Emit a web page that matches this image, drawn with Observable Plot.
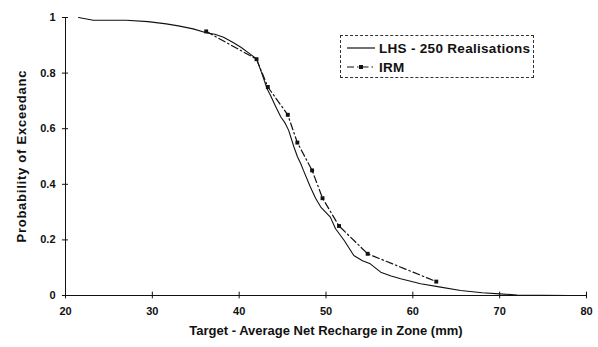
<!DOCTYPE html>
<html>
<head>
<meta charset="utf-8">
<script src="https://cdn.jsdelivr.net/npm/d3@7"></script>
<script src="https://cdn.jsdelivr.net/npm/@observablehq/plot@0.6"></script>
<style>
  html, body { margin: 0; padding: 0; background: #fff; }
  #wrap { position: relative; width: 598px; height: 347px; font-family: "Liberation Sans", Arial, sans-serif; }
  #legend { position: absolute; left: 340px; top: 35px; width: 194px; height: 43px; border: 1px dashed #333; box-sizing: border-box; background: #fff; }
  #legend .row { position: absolute; left: 6px; height: 14px; display: flex; align-items: center; font-size: 13.5px; letter-spacing: 0.3px; font-weight: bold; color: #111; white-space: nowrap; }
  #legend svg { margin-right: 4px; }
</style>
</head>
<body>
<div id="wrap"></div>
<script>
// LHS - 250 Realisations
const lhsX = [21.5, 23.2, 27, 29.5, 31.6, 33, 34.7, 36.2, 37.2, 38.2, 39.3, 40.2, 41.2, 42.0, 42.6, 43.2, 43.6, 44.2, 44.8, 45.3, 45.7, 46.3, 46.7, 47.1, 47.4, 48.2, 48.8, 49.4, 50.5, 51.1, 52.1, 53.2, 54.2, 55.1, 56.3, 57.5, 58.6, 60.9, 63.2, 65.5, 68, 70, 72, 75, 78];
const lhsY = [1.0, 0.99, 0.99, 0.985, 0.977, 0.97, 0.959, 0.945, 0.94, 0.929, 0.91, 0.893, 0.87, 0.851, 0.8, 0.745, 0.72, 0.68, 0.642, 0.62, 0.594, 0.535, 0.5, 0.474, 0.45, 0.39, 0.35, 0.318, 0.282, 0.24, 0.198, 0.144, 0.125, 0.114, 0.084, 0.07, 0.06, 0.042, 0.03, 0.018, 0.01, 0.006, 0.002, 0.001, 0.0];
// IRM
const irmX = [36.2, 42.0, 43.3, 45.6, 46.7, 48.4, 49.6, 51.5, 54.8, 62.7];
const irmY = [0.95, 0.85, 0.75, 0.65, 0.55, 0.45, 0.35, 0.25, 0.15, 0.05];
// Axis ticks and labels
const xTicks = [20, 30, 40, 50, 60, 70, 80];
const yTicks = [0, 0.2, 0.4, 0.6, 0.8, 1];
const xTitle = "Target - Average Net Recharge in Zone (mm)";
const yTitle = "Probability of Exceedanc";
const seriesNames = ["LHS - 250 Realisations", "IRM"];

const lhs = lhsX.map((x, i) => ({x, y: lhsY[i]}));
const irm = irmX.map((x, i) => ({x, y: irmY[i]}));

const ink = "#111";
const chart = Plot.plot({
  width: 598,
  height: 347,
  marginLeft: 65,
  marginRight: 12,
  marginTop: 17,
  marginBottom: 52,
  style: {fontFamily: "Liberation Sans, Arial, sans-serif", background: "#fff", color: ink},
  x: {domain: [20, 80]},
  y: {domain: [0, 1]},
  marks: [
    Plot.ruleX([20], {stroke: ink, strokeWidth: 1}),
    Plot.ruleY([0], {stroke: ink, strokeWidth: 1}),
    Plot.axisX(xTicks, {tickSize: 0, tickPadding: 12, fontSize: 11, fontWeight: "bold", label: null}),
    Plot.ruleX(xTicks, {x: d => d, y1: -0.012, y2: 0.012, stroke: ink}),
    Plot.axisY(yTicks, {tickSize: 0, tickPadding: 10, fontSize: 11, fontWeight: "bold", label: null, tickFormat: d => String(d)}),
    Plot.ruleY(yTicks, {y: d => d, x1: 19.65, x2: 20.35, stroke: ink}),
    Plot.text([xTitle], {frameAnchor: "bottom", dy: 39, fontSize: 13, fontWeight: "bold", fill: ink}),
    Plot.text([yTitle], {frameAnchor: "bottom-left", dx: -40, dy: -53, rotate: -90, textAnchor: "start", fontSize: 13, fontWeight: "bold", fill: ink}),
    Plot.line(irm, {x: "x", y: "y", stroke: ink, strokeWidth: 1.2, strokeDasharray: "7,3,1.5,3"}),
    Plot.line(lhs, {x: "x", y: "y", stroke: ink, strokeWidth: 1.1}),
    Plot.dot(irm, {x: "x", y: "y", symbol: "square", r: 2.2, fill: ink, stroke: "none"})
  ]
});

d3.select(chart).selectAll("text").filter(function() { return this.textContent === yTitle; })
  .attr("textLength", 172).attr("lengthAdjust", "spacing");

const wrap = document.getElementById("wrap");
wrap.appendChild(chart);

const legend = document.createElement("div");
legend.id = "legend";
const sample = (dashed) => `<svg width="28" height="8"><line x1="0" y1="4" x2="28" y2="4" stroke="${ink}" stroke-width="1.2" ${dashed ? 'stroke-dasharray="7,3,1.5,3"' : ''}/>${dashed ? `<rect x="12" y="2" width="4" height="4" fill="${ink}"/>` : ''}</svg>`;
legend.innerHTML = `<div class="row" style="top:5px">${sample(false)}<span>${seriesNames[0]}</span></div>
<div class="row" style="top:24px">${sample(true)}<span>${seriesNames[1]}</span></div>`;
wrap.appendChild(legend);
</script>
</body>
</html>
